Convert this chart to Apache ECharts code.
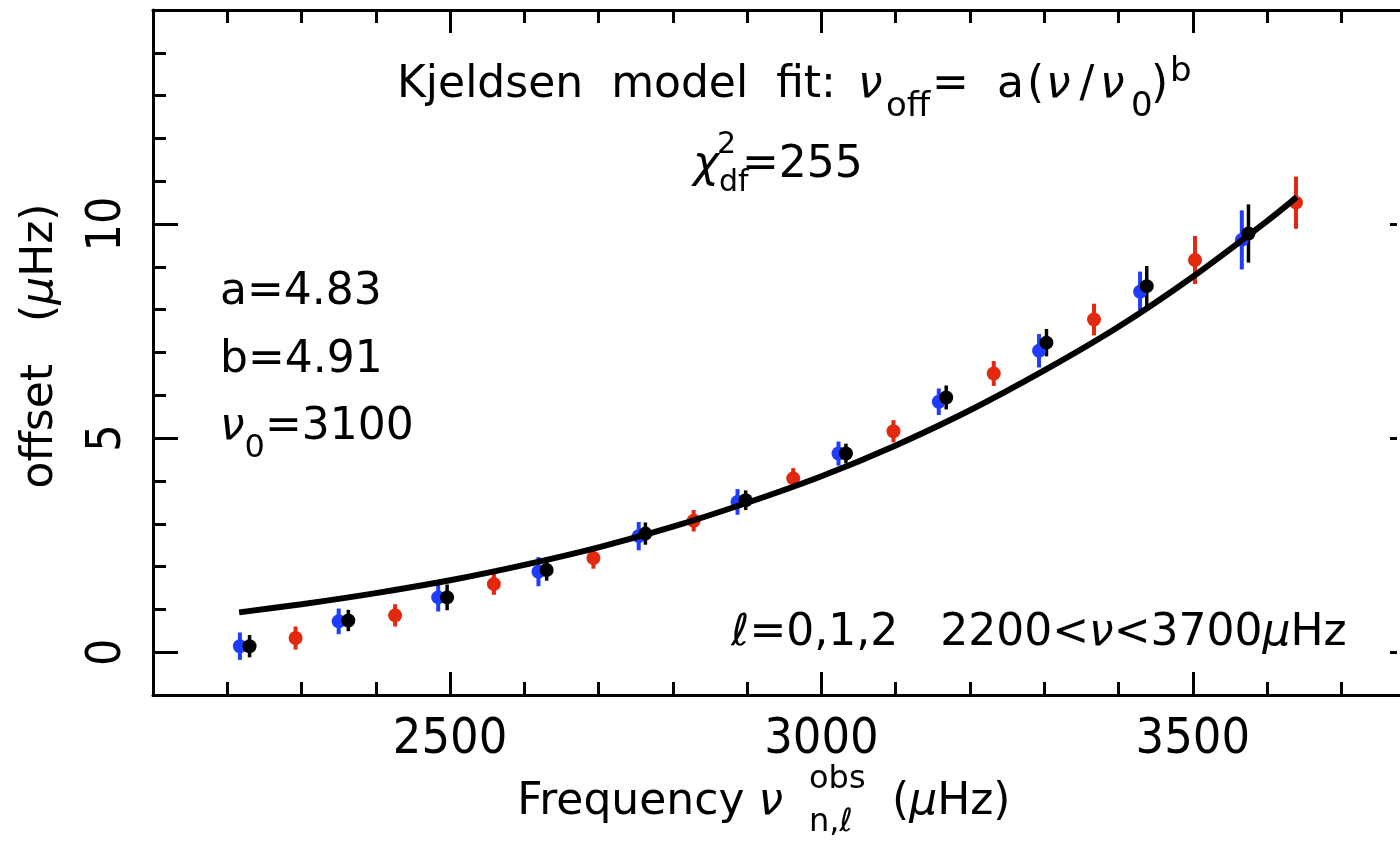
<!DOCTYPE html>
<html>
<head>
<meta charset="utf-8">
<script src="https://cdn.jsdelivr.net/npm/echarts@6/dist/echarts.min.js"></script>
<style>
  html, body { margin: 0; padding: 0; background: #fff; }
  #main { width: 1400px; height: 841px; }
</style>
</head>
<body>
<div id="main"></div>
<script>
// offsets (uHz) against observed frequency (uHz), one group per colour
var blueFreq = [2217, 2350, 2484, 2619, 2754, 2887, 3023, 3158, 3293, 3429, 3566];
var blueOffset = [0.14, 0.72, 1.28, 1.88, 2.71, 3.51, 4.64, 5.85, 7.04, 8.42, 9.63];
var blueErr = [0.32, 0.30, 0.33, 0.34, 0.33, 0.30, 0.28, 0.31, 0.39, 0.47, 0.69];

var redFreq = [2292, 2426, 2559, 2693, 2828, 2962, 3097, 3232, 3367, 3503, 3639];
var redOffset = [0.33, 0.86, 1.59, 2.20, 3.07, 4.06, 5.16, 6.51, 7.77, 9.16, 10.50];
var redErr = [0.27, 0.26, 0.25, 0.25, 0.25, 0.24, 0.26, 0.29, 0.37, 0.56, 0.61];

var blackFreq = [2230, 2363, 2496, 2630, 2763, 2898, 3033, 3168, 3303, 3438, 3575];
var blackOffset = [0.14, 0.74, 1.28, 1.92, 2.77, 3.55, 4.64, 5.95, 7.23, 8.55, 9.78];
var blackErr = [0.26, 0.25, 0.30, 0.25, 0.26, 0.23, 0.23, 0.28, 0.32, 0.47, 0.68];

// fitted curve
var fitFreq = [2216, 2300, 2400, 2500, 2600, 2700, 2800, 2900, 3000, 3100, 3200, 3300, 3400, 3500, 3600, 3640];
var fitOffset = [0.93, 1.12, 1.38, 1.68, 2.04, 2.45, 2.93, 3.49, 4.11, 4.83, 5.65, 6.58, 7.60, 8.77, 10.07, 10.63];

// the frame is cut off on the right, the picture ends near 3779 uHz
var xMin = 2100, xMax = 3779;
var xMajor = [2500, 3000, 3500];
var xMinor = [2200, 2300, 2400, 2500, 2600, 2700, 2800, 2900, 3000, 3100, 3200, 3300, 3400, 3500, 3600, 3700];
var yMajor = [0, 5, 10];

var FONT = "'DejaVu Sans', sans-serif";
var TICKFONT = "'DejaVu Sans Condensed', 'DejaVu Sans', sans-serif";
var BLUE = "#1f3cff";
var RED = "#e2280e";

var chart = echarts.init(document.getElementById("main"));

var tickLine = { color: "#000", width: 3 };

function xMainAxis(position, labels) {
  return {
    type: "value", position: position, min: xMin, max: xMax,
    splitLine: { show: false },
    axisLine: { onZero: false, lineStyle: tickLine },
    axisTick: { inside: true, length: 13, customValues: xMinor, lineStyle: tickLine },
    axisLabel: {
      show: labels, customValues: xMajor, margin: 20,
      fontSize: 50, fontFamily: TICKFONT, color: "#000",
      formatter: function (v) { return String(v); }
    }
  };
}

// longer ticks at the labelled values
function xMajorAxis(position) {
  return {
    type: "value", position: position, min: xMin, max: xMax,
    splitLine: { show: false },
    axisLine: { show: false, onZero: false },
    axisTick: { inside: true, length: 23, customValues: xMajor, lineStyle: tickLine },
    axisLabel: { show: false }
  };
}

var yAxes = [
  {
    type: "value", position: "left", min: -1, max: 15, interval: 1,
    splitLine: { show: false },
    axisLine: { onZero: false, lineStyle: tickLine },
    axisTick: { inside: true, length: 13, lineStyle: tickLine },
    axisLabel: {
      rotate: 90, margin: 21, fontSize: 48, fontFamily: TICKFONT, color: "#000",
      formatter: function (v) {
        var r = Math.round(v);
        return Math.abs(v - r) < 1e-6 && yMajor.indexOf(r) >= 0 ? String(r) : "";
      }
    }
  },
  {
    type: "value", position: "left", min: -1, max: 15,
    splitLine: { show: false },
    axisLine: { show: false, onZero: false },
    axisTick: { inside: true, length: 25, customValues: yMajor, lineStyle: tickLine },
    axisLabel: { show: false }
  },
  // right frame is off the picture, only the tips of the long ticks show
  {
    type: "value", position: "right", min: -1, max: 15,
    splitLine: { show: false },
    axisLine: { show: false, onZero: false },
    axisTick: { inside: true, length: 10, customValues: yMajor, lineStyle: tickLine },
    axisLabel: { show: false }
  }
];

function errorBars(freq, offset, err, color, width) {
  return {
    type: "custom",
    xAxisIndex: 0,
    yAxisIndex: 0,
    data: freq.map(function (f, i) { return [f, offset[i] - err[i], offset[i] + err[i]]; }),
    encode: { x: 0, y: [1, 2] },
    renderItem: function (params, api) {
      var a = api.coord([api.value(0), api.value(1)]);
      var b = api.coord([api.value(0), api.value(2)]);
      return {
        type: "line",
        shape: { x1: a[0], y1: a[1], x2: b[0], y2: b[1] },
        style: { stroke: color, lineWidth: width }
      };
    }
  };
}

function dots(freq, offset, color) {
  return {
    type: "scatter",
    xAxisIndex: 0,
    yAxisIndex: 0,
    symbol: "circle",
    symbolSize: 14,
    itemStyle: { color: color, opacity: 1 },
    data: freq.map(function (f, i) { return [f, offset[i]]; })
  };
}

var rich = {
  m: { fontSize: 44, fontFamily: FONT, fill: "#000" },
  i: { fontSize: 44, fontFamily: FONT, fontStyle: "italic", fill: "#000" },
  sub: { fontSize: 32, fontFamily: FONT, fill: "#000", height: 30, verticalAlign: "bottom" }
};

// rich text line, y is the middle of the main text
function richText(x, y, text, align, rotation) {
  return {
    type: "text", x: x, y: y, rotation: rotation || 0, silent: true,
    style: {
      text: text, rich: rich, lineHeight: 72, font: "44px " + FONT, fill: "#000",
      align: align, verticalAlign: "middle", textAlign: align, textVerticalAlign: "middle"
    }
  };
}

function plainText(x, y, text, size, align, italic) {
  var font = (italic ? "italic " : "") + size + "px " + FONT;
  return {
    type: "text", x: x, y: y, silent: true,
    style: {
      text: text, font: font, fill: "#000",
      align: align, verticalAlign: "middle", textAlign: align, textVerticalAlign: "middle"
    }
  };
}

var option = {
  backgroundColor: "#fff",
  animation: false,
  grid: { left: 153, top: 10, right: 0, bottom: 146 },
  xAxis: [xMainAxis("bottom", true), xMajorAxis("bottom"), xMainAxis("top", false), xMajorAxis("top")],
  yAxis: yAxes,
  series: [
    {
      type: "line",
      xAxisIndex: 0,
      yAxisIndex: 0,
      smooth: 0.3,
      showSymbol: false,
      lineStyle: { color: "#000", width: 6 },
      data: fitFreq.map(function (f, i) { return [f, fitOffset[i]]; })
    },
    errorBars(blueFreq, blueOffset, blueErr, BLUE, 4),
    dots(blueFreq, blueOffset, BLUE),
    errorBars(redFreq, redOffset, redErr, RED, 4),
    dots(redFreq, redOffset, RED),
    errorBars(blackFreq, blackOffset, blackErr, "#000", 3.5),
    dots(blackFreq, blackOffset, "#000")
  ],
  graphic: [
    // keep the very right edge clear, the real frame line is outside the picture
    { type: "rect", z: 100, silent: true, shape: { x: 1397, y: 13, width: 3, height: 680 }, style: { fill: "#fff" } },
    // title: Kjeldsen model fit: nu_off = a(nu/nu_0)^b
    plainText(397, 86, "Kjeldsen  model  fit:", 44, "left"),
    plainText(858, 86, "ν", 44, "left", true),
    plainText(886, 107, "off", 34, "left"),
    plainText(932, 86, "=", 44, "left"),
    plainText(997, 86, "a", 44, "left"),
    plainText(1027, 86, "(", 44, "left"),
    plainText(1046, 86, "ν", 44, "left", true),
    plainText(1087, 86, "/", 44, "center"),
    plainText(1100, 86, "ν", 44, "left", true),
    plainText(1131, 107, "0", 34, "left"),
    plainText(1151, 86, ")", 44, "left"),
    plainText(1170, 72, "b", 34, "left"),
    // chi^2_df = 255
    plainText(719, 166, "χ", 44, "right", true),
    plainText(717, 145, "2", 30, "left"),
    plainText(719, 183, "df", 30, "left"),
    plainText(742, 166, "=255", 44, "left"),
    // fit parameters
    richText(220, 293, "{m|a=4.83}", "left"),
    richText(220, 361, "{m|b=4.91}", "left"),
    richText(220, 428, "{i|ν}{sub|0}{m|=3100}", "left"),
    richText(1039, 634, "{i|ℓ}{m|=0,1,2   2200<}{i|ν}{m|<3700}{i|μ}{m|Hz}", "center"),
    // axis titles
    richText(783, 803, "{m|Frequency }{i|ν}", "right"),
    plainText(809, 780, "obs", 32, "left"),
    plainText(809, 823, "n,ℓ", 32, "left"),
    richText(892, 803, "{m|(}{i|μ}{m|Hz)}", "left"),
    richText(41, 346, "{m|offset   (}{i|μ}{m|Hz)}", "center", Math.PI / 2)
  ]
};

chart.setOption(option);
</script>
</body>
</html>
